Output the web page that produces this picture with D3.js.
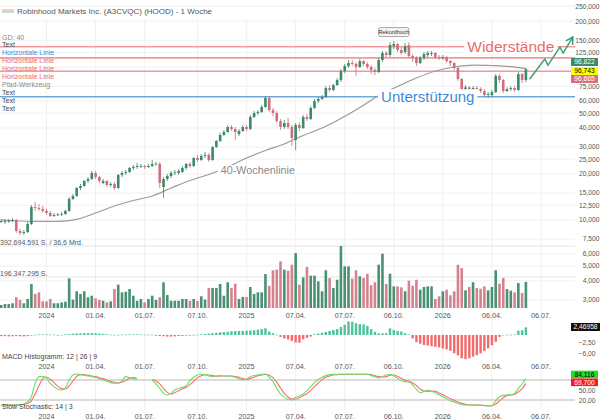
<!DOCTYPE html>
<html>
<head>
<meta charset="utf-8">
<script src="https://cdn.jsdelivr.net/npm/d3@7/dist/d3.min.js"></script>
<style>
  body { margin: 0; background: #fff; }
  svg { display: block; font-family: "Liberation Sans", Arial, sans-serif; }
</style>
</head>
<body>
<div id="chart"></div>
<script>
// weekly candles, first week starts 09.10.2023
const opens = [9.70,9.70,9.78,9.85,10.00,8.47,8.22,8.34,9.42,12.16,11.99,11.80,11.46,11.12,10.62,10.78,10.86,10.94,11.46,13.73,
  14.36,16.19,16.69,18.00,18.55,20.30,19.11,17.46,18.00,16.94,17.20,16.19,19.70,20.30,20.61,21.89,22.22,22.39,22.56,22.22,
  22.56,23.25,23.25,16.43,18.55,19.40,20.30,20.30,20.61,21.89,23.25,22.56,25.45,24.69,26.22,26.62,24.69,30.01,32.87,35.98,
  37.64,40.57,39.37,36.52,38.21,40.57,39.37,47.19,50.1,50.9,54.9,62.8,52.42,50.1,44.4,40.57,43.1,40.57,33.37,41.82,
  39.97,47.19,45.8,54.1,60.0,61.9,63.7,73.0,70.84,76.38,82.35,94.3,101.7,106.4,104.8,100.2,109.6,104.8,100.2,95.73,
  92.9,111.3,123.7,120.0,137.4,141.6,129.4,125.5,139.5,118.2,114.8,106.4,114.8,120.0,121.8,123.7,116.4,114.8,116.4,109.6,
  106.4,98.7,83.6,69.8,73.8,70.84,73.0,71.9,69.8,65.7,65.7,68.7,87.5,82.35,69.8,71.9,73.0,70.84,90.1,82.35];
const highs = [10.15,10.15,10.15,10.31,10.15,8.73,8.60,9.70,12.54,13.11,12.73,12.35,11.80,11.46,11.12,11.12,11.29,11.63,14.14,14.80,
  16.43,17.20,18.27,19.11,20.92,20.92,19.40,18.55,18.27,17.73,17.73,20.00,20.92,21.24,22.22,22.90,23.60,23.25,22.90,23.25,
  24.69,23.95,23.95,19.11,20.00,20.92,21.24,21.56,22.56,23.60,23.95,25.83,26.62,27.02,27.84,27.44,30.48,33.37,37.09,38.79,
  41.82,41.82,40.57,39.37,41.82,41.82,48.62,51.6,52.42,56.52,64.7,63.7,54.1,51.6,45.8,45.09,46.49,41.82,43.1,43.7,
  48.62,49.4,55.7,61.9,63.7,65.7,75.2,76.38,77.5,84.9,97.2,104.8,111.3,111.3,108.0,113.0,111.3,108.0,103.2,98.7,
  114.8,127.5,127.5,145.9,148.1,143.8,135.3,143.8,145.9,121.8,118.2,118.2,125.5,127.5,127.5,125.5,120.0,120.0,118.2,111.3,
  108.0,100.2,84.9,76.38,75.2,75.2,75.2,73.8,71.9,68.7,70.84,90.1,90.1,83.6,73.8,75.2,75.2,92.9,91.5,98.7];
const lows = [9.56,9.42,9.56,9.70,8.22,7.98,7.98,8.22,9.27,11.46,11.46,11.12,10.78,10.46,10.46,10.62,10.62,10.78,11.29,13.52,
  14.14,15.71,16.43,17.46,18.27,18.55,17.46,17.20,16.43,16.43,15.71,15.95,19.11,19.70,20.30,21.24,21.56,21.89,21.56,21.89,
  22.22,22.56,16.19,13.94,18.00,18.83,19.70,19.70,20.30,21.24,21.89,22.22,23.95,24.32,25.45,23.95,24.32,29.56,32.38,35.44,
  37.09,38.21,33.37,35.44,37.64,38.21,38.79,46.49,48.62,50.1,54.1,50.9,47.9,43.1,38.79,39.37,39.37,30.48,28.70,38.21,
  39.37,44.4,45.09,53.2,58.2,60.94,62.8,68.7,69.8,75.2,79.9,91.3,98.7,101.7,87.5,98.7,101.7,97.2,90.1,88.79,
  91.3,108.0,114.8,116.4,131.4,125.5,120.0,121.8,114.8,108.0,101.7,104.8,111.3,116.4,118.2,113.0,111.3,111.3,106.4,101.7,
  95.73,81.1,67.7,67.7,67.7,68.7,69.8,67.7,63.7,62.8,63.7,67.7,78.75,67.7,68.7,69.8,68.7,69.8,78.75,79.9];
const closes = [9.85,9.85,9.93,10.00,8.47,8.22,8.34,9.42,12.16,11.99,11.80,11.46,11.12,10.62,10.78,10.86,10.94,11.46,13.73,14.36,
  16.19,16.69,18.00,18.55,20.30,19.11,18.00,18.00,16.94,17.20,16.19,19.70,20.30,20.61,21.89,22.22,22.56,22.56,22.22,22.56,
  23.25,23.42,17.46,18.55,19.40,20.30,20.46,20.92,21.89,23.25,22.56,25.45,24.69,26.22,26.62,24.69,30.01,32.87,35.98,37.64,
  40.57,39.37,37.64,38.21,40.57,39.37,47.19,50.1,50.9,54.9,62.8,52.42,50.1,44.4,40.57,43.1,40.57,34.4,41.82,39.97,
  47.19,45.8,54.1,60.0,61.9,63.7,73.0,70.84,76.38,82.35,94.3,101.7,106.4,104.8,100.2,109.6,104.8,100.2,95.73,92.9,
  111.3,123.7,120.0,139.5,141.6,129.4,123.7,137.4,118.2,114.8,106.4,114.8,121.8,123.7,123.7,116.4,114.8,116.4,109.6,106.4,
  98.7,83.6,70.84,73.8,70.84,73.0,71.9,69.8,65.7,66.7,68.7,87.5,82.35,69.8,71.9,73.0,70.84,90.1,82.35,96.743];
// weekly volume, millions of shares
const volumes = [19,25,25,30,68,51,30,57,152,89,99,42,42,57,30,30,36,40,188,53,
  106,89,106,68,78,61,51,46,36,42,120,148,99,103,120,78,46,57,36,57,
  78,51,68,163,82,46,46,46,57,57,46,57,46,74,53,127,127,127,152,78,
  163,127,154,57,70,70,133,89,99,99,215,141,239,243,296,243,236,274,348,148,
  194,260,205,205,169,106,239,190,127,179,392.694591,264,264,186,239,201,190,217,144,163,
  274,344,152,217,137,137,131,106,173,141,179,116,133,137,137,57,74,106,116,80,
  106,274,253,112,133,163,127,122,137,112,133,239,154,190,120,110,99,158,95,165];
// MACD histogram 12 | 26 | 9
const macdHist = [-0.35,-0.4,-0.45,-0.4,-0.35,-0.4,-0.45,-0.35,-0.1,0.1,0.15,0.2,0.15,0.15,0.1,0.02,0.05,0.2,0.3,0.4,
  0.5,0.55,0.6,0.6,0.6,0.55,0.45,0.35,0.25,0.1,0.05,0.05,0.1,0.15,0.2,0.2,0.2,0.15,0.15,0.1,
  0.1,-0.25,-0.35,-0.4,-0.5,-0.5,-0.45,-0.35,-0.3,-0.2,-0.1,0.05,0.1,0.25,0.35,0.45,0.6,0.7,0.85,0.95,
  1.05,1.2,1.25,1.3,1.3,1.4,1.45,1.55,1.7,1.9,2.15,1.1,0.55,0.1,-0.6,-1.1,-1.45,-1.9,-2.4,-2.5,
  -1.4,-0.9,-0.5,0.25,0.45,0.7,1.0,1.3,1.6,1.9,2.6,3.3,4.4,4.3,3.8,3.5,3.4,2.9,1.9,1.0,
  0.55,0.55,0.6,2.15,1.6,1.3,1.1,0.55,0.15,-1.1,-2.3,-2.8,-3.2,-3.4,-3.6,-3.8,-4.0,-4.4,-4.6,-5.1,
  -5.9,-6.6,-7.5,-7.8,-7.5,-7.0,-6.5,-5.9,-5.2,-4.3,-3.3,-2.2,-0.6,0.05,0.1,0.1,0.15,1.4,1.5,2.46958];
// Slow Stochastic 14 | 3
const stochK = [5,5,5,5,6,6,8,15,30,70,90,90,86,70,60,52,50,56,80,95,
  98,96,94,92,90,88,84,80,76,72,70,70,78,90,86,84,83,null,null,null,
  80,68,55,40,35,40,50,55,58,62,78,88,95,97,96,92,90,92,93,92,
  92,91,88,84,80,82,90,93,95,97,98,88,75,55,38,28,22,20,28,32,
  38,48,60,72,82,88,93,96,97,97,97,97,97,97,97,97,97,97,93,90,
  86,90,95,97,92,85,78,75,74,65,52,42,46,50,46,42,36,30,24,18,
  14,10,6,5,5,5,5,4,3,2,3,18,30,34,35,36,40,55,68,84.116];
const stochD = [5,5,5,5,5,6,7,10,18,38,63,83,89,82,72,61,54,53,62,77,
  91,96,96,94,92,90,87,84,80,76,73,71,73,79,85,87,84,null,null,null,
  81,77,68,54,43,38,42,48,54,58,66,76,87,93,96,95,93,91,92,92,
  92,92,90,88,84,82,84,88,93,95,97,94,87,73,56,40,29,23,23,27,
  33,39,49,60,71,81,88,92,95,96,97,97,97,97,97,97,97,97,96,93,
  90,89,90,94,95,91,85,79,76,71,64,53,47,46,47,46,41,36,30,24,
  19,14,10,7,5,5,5,5,4,3,3,8,17,27,33,35,37,44,54,69.7];
const smaWeeks = [0,5,10,15,20,25,30,35,40,45,50,55,60,65,70,75,80,85,90,95,100,105,110,115,120,125,130,135,139];
const smaValues = [10.0,9.85,9.78,9.78,10.08,11.1,12.35,13.41,14.35,16.19,18.13,19.84,22.22,25.44,28.48,31.41,35.7,39.97,46.12,54.43,
  65.21,74.67,84.87,94.31,100.2,103.2,102.5,100.9,97.9];

const resistanceLevels = [136, 115, 94];
const supportLevels = [64];
const pathDates = ["2026-06-15","2026-07-13","2026-07-19","2026-08-10","2026-08-16","2026-09-03"];
const pathPrices = [83.6, 113.0, 103.2, 135.4, 123.7, 157.4];

const tickDates = ["2024-01-01","2024-04-01","2024-07-01","2024-10-07","2025-01-06","2025-04-07","2025-07-07","2025-10-06","2026-01-05","2026-04-06","2026-07-06"];
const tickLabels = ["2024","01.04.","01.07.","07.10.","2025","07.04.","07.07.","06.10.","2026","06.04.","06.07."];
const priceTicks = [250,200,150,125,100,75,60,50,40,30,25,20,15,12.5,10,7.5,6,5,4,3];
const legendItems = [
  ["GD: 40", "#888"], ["Text", "#444"], ["Horizontale Linie", "#3d8ad6"],
  ["Horizontale Linie", "#ec6a6a"], ["Horizontale Linie", "#ec6a6a"], ["Horizontale Linie", "#ec6a6a"],
  ["Pfad-Werkzeug", "#888"], ["Text", "#444"], ["Text", "#444"], ["Text", "#444"]
];

const de = d3.formatLocale({ decimal: ",", thousands: ".", grouping: [3], currency: ["", ""] });
const parse = d3.timeParse("%Y-%m-%d");
const firstWeek = new Date(2023, 9, 9);
const weeks = closes.map((c, i) => d3.timeDay.offset(firstWeek, 7 * i));

const green = "#3b8a68", red = "#cc6e7b";
const plotRight = 575;
const axisX = 599.5, axisFont = 6.7;

const svg = d3.select("#chart").append("svg")
  .attr("width", 600).attr("height", 420);

const x = d3.scaleTime()
  .domain([new Date(2024, 0, 1), new Date(2026, 6, 6)])
  .range([46.5, 541]);
const y = d3.scaleLog().domain([3, 250]).range([299.9, 6.3]);
const yVol = d3.scaleLinear().domain([0, d3.max(volumes)]).range([308, 246]);
const yMacd = d3.scaleLinear().domain([0, -8]).range([335, 359.8]);
const yStoch = d3.scaleLinear().domain([0, 100]).range([406.7, 373.3]);

// grid
svg.append("g").selectAll("line").data(priceTicks).join("line")
  .attr("x1", 0).attr("x2", plotRight)
  .attr("y1", d => y(d)).attr("y2", d => y(d))
  .attr("stroke", "#f0f0f0");
svg.append("g").selectAll("line").data(tickDates).join("line")
  .attr("x1", d => x(parse(d))).attr("x2", d => x(parse(d)))
  .attr("y1", 20).attr("y2", 410)
  .attr("stroke", "#f0f0f0");
svg.append("g").selectAll("line").data([1, 0.5]).join("line")
  .attr("x1", 0).attr("x2", plotRight)
  .attr("y1", d => yVol(d * d3.max(volumes))).attr("y2", d => yVol(d * d3.max(volumes)))
  .attr("stroke", "#e4e4e4");
svg.append("g").selectAll("line").data([80, 20]).join("line")
  .attr("x1", 0).attr("x2", plotRight)
  .attr("y1", d => yStoch(d)).attr("y2", d => yStoch(d))
  .attr("stroke", "#cfcfcf").attr("stroke-width", 1.5);

// price axis labels (100,000 sits under the last-price boxes)
svg.append("g").selectAll("text").data(priceTicks.filter(d => d !== 100)).join("text")
  .attr("x", axisX).attr("y", d => y(d) + 2.4)
  .attr("text-anchor", "end")
  .attr("font-size", axisFont).attr("fill", "#555")
  .text(d => de.format(",.3f")(d));

// x axis labels for each pane
[315, 366, 416].forEach(yy => {
  svg.append("g").selectAll("text").data(tickDates).join("text")
    .attr("x", (d, i) => x(parse(d)))
    .attr("y", yy + 2.5)
    .attr("text-anchor", "middle")
    .attr("font-size", 7.2).attr("fill", "#555")
    .text((d, i) => tickLabels[i]);
});

// volume
const maxVol = d3.max(volumes);
svg.append("g").selectAll("rect").data(volumes).join("rect")
  .attr("x", (d, i) => x(weeks[i]) - 1.3)
  .attr("width", 2.6)
  .attr("y", d => yVol(d))
  .attr("height", d => yVol(0) - yVol(d))
  .attr("fill", (d, i) => closes[i] >= opens[i] ? "#4a9174" : "#d4838e");
svg.append("text").attr("x", 0).attr("y", yVol(maxVol) - 1)
  .attr("font-size", 7).attr("fill", "#555")
  .text(de.format(",")(Math.round(maxVol * 1e6)) + " S. / 36,6 Mrd.");
svg.append("text").attr("x", 0).attr("y", yVol(maxVol / 2) - 1)
  .attr("font-size", 7).attr("fill", "#555")
  .text(de.format(",")(Math.floor(maxVol * 1e6 / 2)) + " S.");

// horizontal lines
svg.append("g").selectAll("line").data(resistanceLevels).join("line")
  .attr("x1", 0).attr("x2", plotRight)
  .attr("y1", d => y(d)).attr("y2", d => y(d))
  .attr("stroke", "#f29a9a").attr("stroke-width", 1.6);
svg.append("g").selectAll("line").data(supportLevels).join("line")
  .attr("x1", 0).attr("x2", plotRight)
  .attr("y1", d => y(d)).attr("y2", d => y(d))
  .attr("stroke", "#6ea7df").attr("stroke-width", 1.6);

// 40-week line
svg.append("path")
  .datum(smaWeeks.map((w, i) => [weeks[w], smaValues[i]]))
  .attr("fill", "none").attr("stroke", "#9a9a9a").attr("stroke-width", 1.2)
  .attr("d", d3.line().x(d => x(d[0])).y(d => y(d[1])).curve(d3.curveMonotoneX));

// candles
const candle = svg.append("g").selectAll("g").data(closes).join("g");
candle.append("line")
  .attr("x1", (d, i) => x(weeks[i])).attr("x2", (d, i) => x(weeks[i]))
  .attr("y1", (d, i) => y(highs[i])).attr("y2", (d, i) => y(lows[i]))
  .attr("stroke", (d, i) => d >= opens[i] ? green : red).attr("stroke-width", 0.8);
candle.append("rect")
  .attr("x", (d, i) => x(weeks[i]) - 1.3).attr("width", 2.6)
  .attr("y", (d, i) => y(Math.max(d, opens[i])))
  .attr("height", (d, i) => Math.max(0.8, Math.abs(y(d) - y(opens[i]))))
  .attr("fill", (d, i) => d >= opens[i] ? green : red);

// annotations
function boxedText(tx, ty, txt, size, color) {
  const t = svg.append("text").attr("x", tx).attr("y", ty)
    .attr("text-anchor", "middle").attr("dominant-baseline", "central")
    .attr("font-size", size).attr("fill", color).text(txt);
  const b = t.node().getBBox();
  svg.insert("rect", () => t.node())
    .attr("x", b.x - 3).attr("y", b.y + 1).attr("width", b.width + 6).attr("height", b.height - 2)
    .attr("fill", "#fff");
  return t;
}
boxedText(x(parse("2026-05-11")), y(resistanceLevels[0]), "Widerstände", 15.5, "#ec6a6a");
boxedText(x(parse("2025-12-08")), y(supportLevels[0]), "Unterstützung", 15, "#3d8ad6");
boxedText(x(parse("2025-01-27")), y(21.2), "40-Wochenlinie", 10.8, "#888");

const rek = svg.append("g");
const rx = x(weeks[104]), ry = y(highs[104]) - 9;
rek.append("rect").attr("x", rx - 15).attr("y", ry - 4.5).attr("width", 30).attr("height", 9)
  .attr("rx", 1.5).attr("fill", "#f4f4f4").attr("stroke", "#888").attr("stroke-width", 0.7);
rek.append("text").attr("x", rx).attr("y", ry + 2).attr("text-anchor", "middle")
  .attr("font-size", 5.8).attr("fill", "#333").text("Rekordhoch");

// zigzag path
svg.append("defs").append("marker").attr("id", "arr")
  .attr("viewBox", "0 0 10 10").attr("refX", 8).attr("refY", 5)
  .attr("markerWidth", 7).attr("markerHeight", 7).attr("orient", "auto")
  .append("path").attr("d", "M1,1 L8,5 L1,9").attr("fill", "none")
  .attr("stroke", "#3a9a72").attr("stroke-width", 1.5);
svg.append("path")
  .datum(pathDates.map((d, i) => [parse(d), pathPrices[i]]))
  .attr("fill", "none").attr("stroke", "#3a9a72").attr("stroke-width", 1.4)
  .attr("marker-end", "url(#arr)")
  .attr("d", d3.line().x(d => x(d[0])).y(d => y(d[1])));

// last price labels
const lastLabels = [["96,822", "#3b8a68", "#fff", 62], ["96,743", "#ffff00", "#000", 71], ["96,665", "#d8707d", "#fff", 79]];
lastLabels.forEach(([t, bg, fg, yy]) => {
  svg.append("rect").attr("x", 571).attr("y", yy - 4).attr("width", 27).attr("height", 8).attr("fill", bg);
  svg.append("text").attr("x", 584.5).attr("y", yy + 2.4).attr("text-anchor", "middle")
    .attr("font-size", axisFont).attr("fill", fg).text(t);
});

// MACD histogram
svg.append("g").selectAll("rect").data(macdHist).join("rect")
  .attr("x", (d, i) => x(weeks[i]) - 1.2).attr("width", 2.4)
  .attr("y", d => Math.min(yMacd(d), yMacd(0)))
  .attr("height", d => Math.max(0.6, Math.abs(yMacd(d) - yMacd(0))))
  .attr("fill", d => d >= 0 ? "#4cc39c" : "#f26a6a");
svg.append("g").selectAll("text").data([-2.5, -6]).join("text")
  .attr("x", axisX - 4).attr("y", d => yMacd(d) + 2.4)
  .attr("text-anchor", "end")
  .attr("font-size", axisFont).attr("fill", "#555")
  .text(d => de.format(".2f")(d));
svg.append("rect").attr("x", 571).attr("y", 323).attr("width", 29).attr("height", 8).attr("fill", "#111");
svg.append("text").attr("x", 585.5).attr("y", 329.4).attr("text-anchor", "middle")
  .attr("font-size", axisFont).attr("fill", "#fff")
  .text(de.format(".5f")(macdHist[macdHist.length - 1]));
svg.append("text").attr("x", 2).attr("y", 359).attr("font-size", 7).attr("fill", "#444")
  .text("MACD Histogramm: 12 | 26 | 9");

// stochastic
const stochLine = d3.line()
  .defined(d => d != null)
  .x((d, i) => x(weeks[i])).y(d => yStoch(d))
  .curve(d3.curveMonotoneX);
svg.append("path").datum(stochD).attr("fill", "none")
  .attr("stroke", "#ff6b6b").attr("stroke-width", 1.1).attr("d", stochLine);
svg.append("path").datum(stochK).attr("fill", "none")
  .attr("stroke", "#66e066").attr("stroke-width", 1.1).attr("d", stochLine);
svg.append("g").selectAll("text").data([50, 20]).join("text")
  .attr("x", axisX - 4).attr("y", d => yStoch(d) + 2.6)
  .attr("text-anchor", "end")
  .attr("font-size", axisFont).attr("fill", "#555")
  .text(d => de.format(".2f")(d));
[[stochK, "#22dd22", "#000", 374.5], [stochD, "#ff1a1a", "#fff", 382.3]].forEach(([s, bg, fg, yy]) => {
  svg.append("rect").attr("x", 571).attr("y", yy - 3.8).attr("width", 27).attr("height", 7.6).attr("fill", bg);
  svg.append("text").attr("x", 584.5).attr("y", yy + 2.3).attr("text-anchor", "middle")
    .attr("font-size", axisFont).attr("fill", fg)
    .text(de.format(".3f")(s[s.length - 1]));
});
svg.append("text").attr("x", 2).attr("y", 409).attr("font-size", 7).attr("fill", "#444")
  .text("Slow Stochastic: 14 | 3");

// title and legend
svg.append("line").attr("x1", 2).attr("x2", 14).attr("y1", 10).attr("y2", 10).attr("stroke", "#e99").attr("stroke-width", 1);
svg.append("line").attr("x1", 2).attr("x2", 14).attr("y1", 12).attr("y2", 12).attr("stroke", "#8b9").attr("stroke-width", 1);
svg.append("text").attr("x", 17).attr("y", 13.5).attr("font-size", 8).attr("fill", "#555")
  .text("Robinhood Markets Inc. (A3CVQC) (HOOD) - 1 Woche");
svg.append("g").selectAll("text").data(legendItems).join("text")
  .attr("x", 2).attr("y", (d, i) => 39.5 + i * 7.9)
  .attr("font-size", 7).attr("fill", d => d[1])
  .text(d => d[0]);
</script>
</body>
</html>
